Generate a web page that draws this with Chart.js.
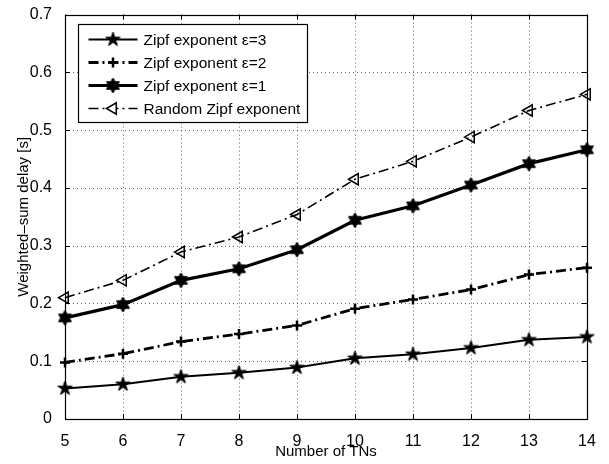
<!DOCTYPE html>
<html>
<head>
<meta charset="utf-8">
<script src="https://cdn.jsdelivr.net/npm/chart.js"></script>
<style>
  html, body { margin: 0; padding: 0; background: #fff; }
  #wrap { width: 609px; height: 464px; }
</style>
</head>
<body>
<div id="wrap"><canvas id="delayChart" width="609" height="464"></canvas></div>
<script>
// x axis: number of TNs
const numTNs = [5, 6, 7, 8, 9, 10, 11, 12, 13, 14];

// weighted-sum delay [s]
const delayEps3   = [0.053, 0.060, 0.073, 0.080, 0.089, 0.105, 0.112, 0.123, 0.137, 0.142];
const delayEps2   = [0.098, 0.113, 0.134, 0.147, 0.162, 0.191, 0.207, 0.224, 0.250, 0.262];
const delayEps1   = [0.175, 0.198, 0.240, 0.260, 0.293, 0.344, 0.369, 0.405, 0.442, 0.466];
const delayRandom = [0.210, 0.240, 0.289, 0.315, 0.354, 0.415, 0.446, 0.488, 0.534, 0.562];

const seriesLabels = ['Zipf exponent ε=3', 'Zipf exponent ε=2', 'Zipf exponent ε=1', 'Random Zipf exponent'];
const yTicksMax = 0.7;

const FONT = '"Liberation Sans", Arial, Helvetica, sans-serif';
const DASHDOT = [10, 4, 2, 4];

// filled star markers (matlab 'p' and 'h')
function starMarker(points, outerR, innerRatio) {
  const size = Math.ceil(outerR * 2 + 4);
  const c = document.createElement('canvas');
  c.width = size; c.height = size;
  const g = c.getContext('2d');
  const cx = size / 2, cy = size / 2;
  g.beginPath();
  for (let i = 0; i < points * 2; i++) {
    const r = i % 2 === 0 ? outerR : outerR * innerRatio;
    const a = -Math.PI / 2 + i * Math.PI / points;
    const px = cx + r * Math.cos(a), py = cy + r * Math.sin(a);
    if (i === 0) g.moveTo(px, py); else g.lineTo(px, py);
  }
  g.closePath();
  g.fillStyle = '#000';
  g.fill();
  g.lineWidth = 1;
  g.strokeStyle = '#000';
  g.stroke();
  return c;
}

const pentagram = starMarker(5, 7.5, 0.382);
const hexagram = starMarker(6, 7.5, 0.577);

const toPoints = arr => numTNs.map((n, i) => ({ x: n, y: arr[i] }));

const datasets = [
  {
    label: seriesLabels[0], data: toPoints(delayEps3),
    borderColor: '#000', borderWidth: 2,
    pointStyle: pentagram, pointRadius: 7
  },
  {
    label: seriesLabels[1], data: toPoints(delayEps2),
    borderColor: '#000', borderWidth: 2.8, borderDash: DASHDOT,
    pointStyle: 'cross', pointRadius: 5, pointBorderWidth: 2.5
  },
  {
    label: seriesLabels[2], data: toPoints(delayEps1),
    borderColor: '#000', borderWidth: 3.2,
    pointStyle: hexagram, pointRadius: 7
  },
  {
    label: seriesLabels[3], data: toPoints(delayRandom),
    borderColor: '#000', borderWidth: 1.6, borderDash: DASHDOT,
    pointStyle: 'triangle', pointRotation: -90, pointRadius: 6.5,
    pointBorderWidth: 1.5, pointBackgroundColor: 'rgba(0,0,0,0)'
  }
];
datasets.forEach(d => {
  d.pointBorderColor = '#000';
  if (!d.pointBackgroundColor) d.pointBackgroundColor = '#000';
  d.fill = false;
  d.tension = 0;
  d.clip = false;
});

// matlab style: dotted grid, full box, inward ticks
const matlabAxes = {
  id: 'matlabAxes',
  beforeDatasetsDraw(chart) {
    const { ctx, chartArea: a, scales: { x, y } } = chart;
    ctx.save();
    ctx.strokeStyle = 'rgba(0,0,0,0.6)';
    ctx.lineWidth = 1;
    ctx.setLineDash([1, 3]);
    x.ticks.forEach(t => {
      const px = Math.round(x.getPixelForValue(t.value)) + 0.5;
      ctx.beginPath(); ctx.moveTo(px, a.top); ctx.lineTo(px, a.bottom); ctx.stroke();
    });
    y.ticks.forEach(t => {
      const py = Math.round(y.getPixelForValue(t.value)) + 0.5;
      ctx.beginPath(); ctx.moveTo(a.left, py); ctx.lineTo(a.right, py); ctx.stroke();
    });
    ctx.restore();
  },
  afterDatasetsDraw(chart) {
    const { ctx, chartArea: a, scales: { x, y } } = chart;
    const tl = 5;
    ctx.save();
    ctx.strokeStyle = '#000';
    ctx.lineWidth = 1;
    x.ticks.forEach(t => {
      const px = Math.round(x.getPixelForValue(t.value)) + 0.5;
      ctx.beginPath();
      ctx.moveTo(px, a.bottom); ctx.lineTo(px, a.bottom - tl);
      ctx.moveTo(px, a.top); ctx.lineTo(px, a.top + tl);
      ctx.stroke();
    });
    y.ticks.forEach(t => {
      const py = Math.round(y.getPixelForValue(t.value)) + 0.5;
      ctx.beginPath();
      ctx.moveTo(a.left, py); ctx.lineTo(a.left + tl, py);
      ctx.moveTo(a.right, py); ctx.lineTo(a.right - tl, py);
      ctx.stroke();
    });
    ctx.lineWidth = 1.2;
    ctx.strokeRect(Math.round(a.left) + 0.5, Math.round(a.top) + 0.5,
      Math.round(a.right - a.left), Math.round(a.bottom - a.top));
    ctx.restore();
  }
};

// legend box in the upper left corner, drawn like matlab's
const matlabLegend = {
  id: 'matlabLegend',
  afterDatasetsDraw(chart) {
    const { ctx, chartArea: a } = chart;
    const bx = Math.round(a.left) + 13.5, by = Math.round(a.top) + 9.5;
    const bw = 229, bh = 98;
    ctx.save();
    ctx.fillStyle = '#fff';
    ctx.fillRect(bx, by, bw, bh);
    ctx.strokeStyle = '#000';
    ctx.lineWidth = 1.2;
    ctx.strokeRect(bx, by, bw, bh);

    chart.data.datasets.forEach((ds, i) => {
      const ry = by + 15 + i * 23;
      const x0 = bx + 10, x1 = bx + 59, mx = (x0 + x1) / 2;
      ctx.save();
      ctx.strokeStyle = '#000';
      ctx.lineWidth = ds.borderWidth;
      ctx.setLineDash(ds.borderDash || []);
      ctx.beginPath(); ctx.moveTo(x0, ry); ctx.lineTo(x1, ry); ctx.stroke();
      ctx.setLineDash([]);
      const ps = ds.pointStyle;
      if (typeof ps === 'object') {
        ctx.drawImage(ps, mx - ps.width / 2, ry - ps.height / 2);
      } else if (ps === 'cross') {
        const r = ds.pointRadius;
        ctx.lineWidth = ds.pointBorderWidth;
        ctx.beginPath();
        ctx.moveTo(mx - r, ry); ctx.lineTo(mx + r, ry);
        ctx.moveTo(mx, ry - r); ctx.lineTo(mx, ry + r);
        ctx.stroke();
      } else if (ps === 'triangle') {
        const r = ds.pointRadius;
        ctx.lineWidth = ds.pointBorderWidth;
        ctx.fillStyle = '#fff';
        ctx.beginPath();
        ctx.moveTo(mx - r, ry);
        ctx.lineTo(mx + r * 0.5, ry - r * 0.866);
        ctx.lineTo(mx + r * 0.5, ry + r * 0.866);
        ctx.closePath();
        ctx.fill();
        ctx.stroke();
      }
      ctx.restore();
      ctx.fillStyle = '#000';
      ctx.font = '15.5px ' + FONT;
      ctx.textAlign = 'left';
      ctx.textBaseline = 'middle';
      ctx.fillText(ds.label, bx + 65, ry + 1);
    });
    ctx.restore();
  }
};

new Chart(document.getElementById('delayChart').getContext('2d'), {
  type: 'line',
  data: { datasets },
  options: {
    responsive: false,
    animation: false,
    layout: { padding: { top: 9, right: 22, left: 0, bottom: 0 } },
    plugins: { legend: { display: false }, tooltip: { enabled: false } },
    scales: {
      x: {
        type: 'linear', min: numTNs[0], max: numTNs[numTNs.length - 1],
        ticks: { stepSize: 1, color: '#000', font: { family: FONT, size: 16 }, padding: 5, maxRotation: 0 },
        grid: { display: false },
        border: { display: false },
        title: { display: true, text: 'Number of TNs', color: '#000',
          font: { family: FONT, size: 15 }, padding: { top: 0, bottom: 3 } },
        afterFit(s) { s.height = 45; }
      },
      y: {
        type: 'linear', min: 0, max: yTicksMax,
        ticks: { stepSize: 0.1, color: '#000', font: { family: FONT, size: 16 }, padding: 5 },
        grid: { display: false },
        border: { display: false },
        title: { display: true, text: 'Weighted–sum delay [s]', color: '#000',
          font: { family: FONT, size: 15 }, padding: { top: 15, bottom: 0 } },
        afterFit(s) { s.width = 65; }
      }
    }
  },
  plugins: [matlabAxes, matlabLegend]
});
</script>
</body>
</html>
